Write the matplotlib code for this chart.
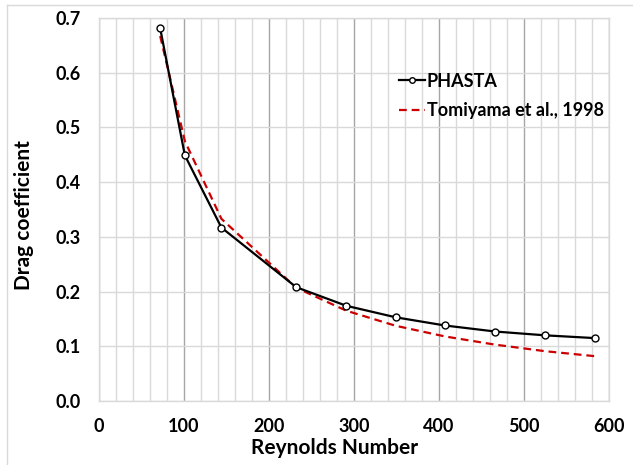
import matplotlib.pyplot as plt
from matplotlib.lines import Line2D
from matplotlib.ticker import MultipleLocator

plt.rcParams['font.family'] = ['Lato', 'DejaVu Sans']

# data
re_phasta = [72, 101, 144, 232, 291, 349, 407, 466, 525, 583]
cd_phasta = [0.681, 0.449, 0.317, 0.208, 0.174, 0.153, 0.138, 0.127, 0.120, 0.115]
re_tomi = [72, 101, 144, 232, 291, 349, 407, 466, 525, 583]
cd_tomi = [0.667, 0.475, 0.333, 0.207, 0.165, 0.1375, 0.118, 0.103, 0.091, 0.082]

fig = plt.figure(figsize=(6.33, 4.65), dpi=100)
ax = fig.add_axes([99 / 633, 1 - 401 / 465, 510 / 633, 383 / 465])

# outer chart border (only left/top visible in the reference)
fig.add_artist(Line2D([7 / 633, 7 / 633], [0, 1 - 5 / 465], transform=fig.transFigure,
                      color='#d9d9d9', lw=1.0))
fig.add_artist(Line2D([7 / 633, 1], [1 - 5 / 465, 1 - 5 / 465], transform=fig.transFigure,
                      color='#d9d9d9', lw=1.0))

ax.plot(re_phasta, cd_phasta, color='black', lw=1.6, marker='o', ms=5,
        mfc='white', mec='black', mew=1.0, label='PHASTA', zorder=4)
ax.plot(re_tomi, cd_tomi, color='#cc0000', lw=1.6, ls=(0, (3.5, 2.2)),
        label='Tomiyama et al., 1998', zorder=3)

ax.set_xlim(0, 600)
ax.set_ylim(0, 0.7)
ax.xaxis.set_major_locator(MultipleLocator(100))
ax.xaxis.set_minor_locator(MultipleLocator(20))
ax.yaxis.set_major_locator(MultipleLocator(0.1))
ax.yaxis.set_major_formatter(plt.FormatStrFormatter('%.1f'))

ax.grid(True, axis='x', which='minor', color='#d9d9d9', lw=1.0)
ax.grid(True, axis='x', which='major', color='#a6a6a6', lw=1.0)
ax.grid(True, axis='y', which='major', color='#d9d9d9', lw=1.0)
ax.set_axisbelow(True)
for s in ax.spines.values():
    s.set_color('#d9d9d9')
    s.set_linewidth(1.0)

ax.tick_params(which='both', length=0, labelsize=13)
ax.tick_params(axis='y', pad=13)
ax.tick_params(axis='x', pad=12)
for lab in ax.get_xticklabels() + ax.get_yticklabels():
    lab.set_fontweight('bold')

ax.set_xlabel('Reynolds Number', fontsize=15, fontweight='bold')
ax.set_ylabel('Drag coefficient', fontsize=15, fontweight='bold')
ax.xaxis.set_label_coords(0.461, -0.097)
ax.yaxis.set_label_coords(-0.127, 0.486)

leg = ax.legend(loc='upper left', bbox_to_anchor=(0.588, 0.857), frameon=False,
                prop={'weight': 'bold', 'size': 13}, handlelength=1.45,
                handletextpad=0.1, labelspacing=0.7, markerscale=0.8,
                borderaxespad=0, borderpad=0)

fig.savefig('out.png', dpi=100, facecolor='white')
